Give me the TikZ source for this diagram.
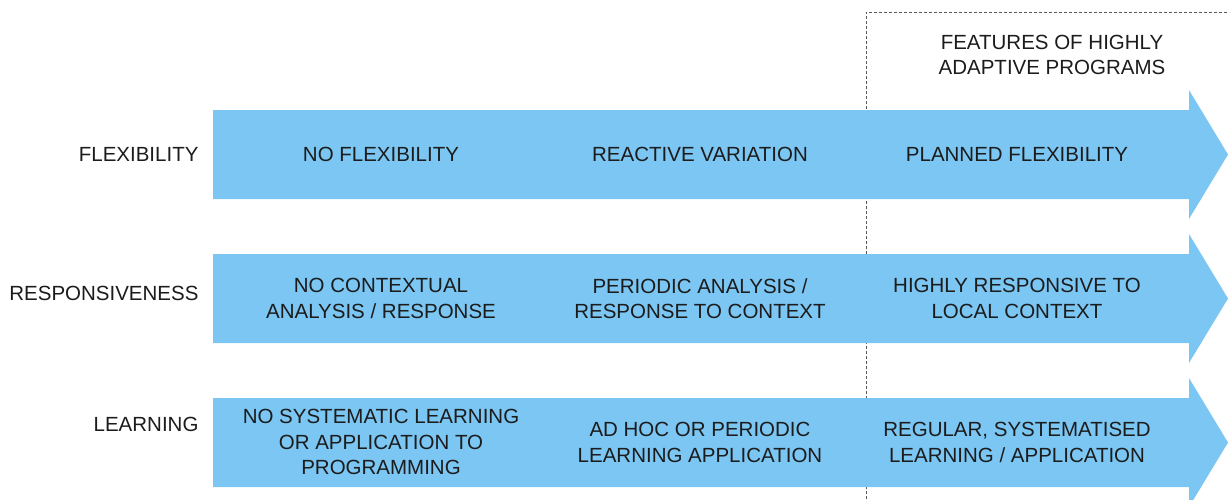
\documentclass[tikz,border=0pt]{standalone}
\usepackage{fontspec}
\setmainfont{Liberation Sans}
\definecolor{bandblue}{RGB}{123,198,243}
\definecolor{ink}{RGB}{28,28,28}
\tikzset{
	band/.style = { fill = bandblue },
	rowlabel/.style = { anchor = east, text = ink, font = \fontsize{20.5}{25.5}\selectfont },
	cell/.style = { align = center, text = ink, font = \fontsize{20.5}{25.5}\selectfont }
}
\begin{document}
\begin{tikzpicture}[x = 1pt, y = -1pt]
	\useasboundingbox (0,0) rectangle (1228,499);
	\clip (0,0) rectangle (1228,499);
	% frame around the last column
	\coordinate (framebottom) at (866,499);
	\coordinate (frametop) at (866,12);
	\coordinate (framecorner) at (1228,12);
	\draw [dashed, gray!70!black, line width = 1pt, dash pattern = on 3pt off 2pt]
		(framebottom) -- (frametop) -- (framecorner);
	\node [cell] (features) at (1052,55) {FEATURES OF HIGHLY\\ADAPTIVE PROGRAMS};
	% the three arrows
	\fill [band] (213,110) -- (1189,110) -- (1189,90) -- (1228,154.5) -- (1189,219) -- (1189,199) -- (213,199) -- cycle;
	\fill [band] (213,254) -- (1189,254) -- (1189,234) -- (1228,298.5) -- (1189,363) -- (1189,343) -- (213,343) -- cycle;
	\fill [band] (213,398) -- (1189,398) -- (1189,378) -- (1228,442.5) -- (1189,507) -- (1189,487) -- (213,487) -- cycle;
	% row labels
	\node [rowlabel] (flexibility) at (202,154) {FLEXIBILITY};
	\node [rowlabel] (responsiveness) at (202,293) {RESPONSIVENESS};
	\node [rowlabel] (learning) at (202,424) {LEARNING};
	% flexibility row
	\node [cell] (noflex) at (381,154.5) {NO FLEXIBILITY};
	\node [cell] (reactive) at (700,154.5) {REACTIVE VARIATION};
	\node [cell] (planned) at (1017,154.5) {PLANNED FLEXIBILITY};
	% responsiveness row
	\node [cell] (nocontext) at (381,298.5) {NO CONTEXTUAL\\ANALYSIS / RESPONSE};
	\node [cell] (periodic) at (700,298.5) {PERIODIC ANALYSIS /\\RESPONSE TO CONTEXT};
	\node [cell] (local) at (1017,298.5) {HIGHLY RESPONSIVE TO\\LOCAL CONTEXT};
	% learning row
	\node [cell] (nolearning) at (381,442) {NO SYSTEMATIC LEARNING\\OR APPLICATION TO\\PROGRAMMING};
	\node [cell] (adhoc) at (700,442.5) {AD HOC OR PERIODIC\\LEARNING APPLICATION};
	\node [cell] (regular) at (1017,442.5) {REGULAR, SYSTEMATISED\\LEARNING / APPLICATION};
\end{tikzpicture}
\end{document}
